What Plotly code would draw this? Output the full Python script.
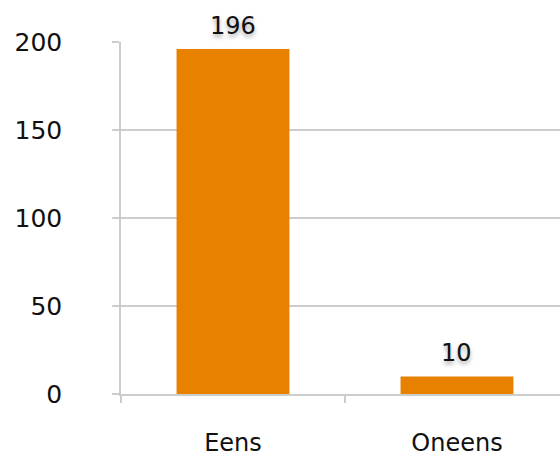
import plotly.graph_objects as go

categories = ["Eens", "Oneens"]
values = [196, 10]
y_ticks = [0, 50, 100, 150, 200]

bar_color = "#E88000"
grid_color = "#CCCCCC"
font_family = "DejaVu Sans"

fig = go.Figure()
fig.add_trace(go.Bar(
    x=categories, y=values, width=0.504,
    marker=dict(color=bar_color, line=dict(width=0)),
    hoverinfo="skip",
))

for c, v in zip(categories, values):
    fig.add_annotation(
        x=c, y=v, text=str(v), showarrow=False,
        yanchor="bottom", yshift=7,
        font=dict(family=font_family, size=24, color="#111111",
                  shadow="0px 3px 4px rgba(0,0,0,0.35)"),
    )

fig.update_layout(
    width=560, height=456,
    margin=dict(l=121, r=0, t=42, b=62, autoexpand=False),
    paper_bgcolor="white", plot_bgcolor="white",
    showlegend=False,
    font=dict(family=font_family, size=24, color="#111111"),
    xaxis=dict(
        type="category", range=[-0.5, 1.46], automargin=False,
        showgrid=False, showline=True, linecolor=grid_color, linewidth=1.5,
        ticks="outside", tickson="boundaries", ticklen=7, tickcolor=grid_color, tickwidth=1.5,
        ticklabelstandoff=26,
        tickfont=dict(size=24),
    ),
    yaxis=dict(
        range=[0, 200], tickvals=y_ticks, automargin=False,
        showgrid=True, gridcolor=grid_color, gridwidth=1.5,
        showline=True, linecolor=grid_color, linewidth=1.5,
        zeroline=False,
        ticks="outside", ticklen=7, tickcolor=grid_color, tickwidth=1.5,
        ticklabelstandoff=45,
        tickfont=dict(size=25),
    ),
)

fig.write_html(
    "out.html",
    config={"displayModeBar": False},
    post_script="document.body.style.margin='0';document.body.style.overflow='hidden';",
)
